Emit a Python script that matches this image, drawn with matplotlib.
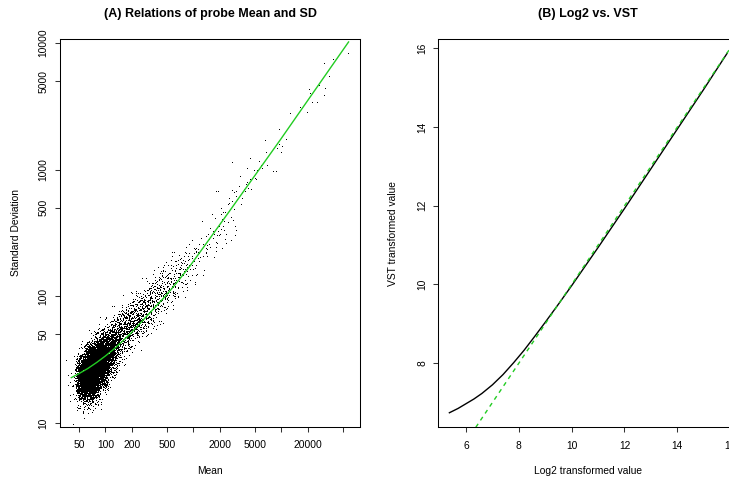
import matplotlib
matplotlib.use("Agg")
import matplotlib.pyplot as plt
import numpy as np

plt.rcParams['font.family'] = ['Liberation Sans', 'DejaVu Sans']

# dense part of the probe cloud: counts per cell, cells are 0.1 wide in log10(SD) x log10(Mean)
sd_row_lo = [1.0, 1.1, 1.2, 1.3, 1.4, 1.5, 1.6, 1.7, 1.8, 1.9, 2.0, 2.1, 2.2, 2.3, 2.4, 2.5, 2.6]
mean_col_start = [1.6, 1.6, 1.6, 1.6, 1.6, 1.7, 1.8, 1.9, 2.1, 2.2, 2.4, 2.5, 2.6, 2.8, 3.0, 3.1, 3.2]
cell_counts = [
    [1, 3],
    [4, 40, 30, 3],
    [8, 350, 320, 20],
    [12, 550, 900, 400, 15],
    [4, 300, 900, 800, 150, 10],
    [25, 380, 650, 380, 55, 6],
    [15, 130, 200, 150, 55, 12],
    [5, 40, 95, 100, 75, 28, 5],
    [18, 55, 75, 62, 28, 5],
    [5, 28, 55, 55, 28, 8],
    [8, 36, 45, 32, 10, 1],
    [4, 18, 26, 22, 9, 1],
    [3, 8, 16, 16, 7, 1],
    [2, 5, 10, 8, 2, 1],
    [2, 6, 8, 3, 1],
    [1, 4, 6, 3],
    [2, 5, 4],
]

# high-expression probes, one by one
upper_mean = [57100, 38600, 30300, 34500, 26600, 31100, 30300, 20500, 21400, 22400,
              25500, 19600, 16500, 12700, 9400, 11400, 9400, 10100, 9000, 9800,
              6520, 6750, 6920, 8030, 8750, 5570, 5870, 5330, 4380, 2780,
              4900, 6080, 4110, 5020, 5200, 4380, 4110, 3940, 4220, 4530,
              3870, 3550, 3370, 3430, 3040, 2910, 2780, 3310, 3120, 2780,
              1830, 1920, 2550, 2550, 3610, 3780, 3090]
upper_sd = [8260, 7410, 6780, 5410, 4560, 4300, 3830, 4250, 3950, 3370,
            3370, 2780, 3080, 2740, 2050, 1710, 1560, 1510, 1450, 1360,
            1680, 1360, 1070, 962, 951, 1150, 1070, 980, 1220, 1120,
            980, 1010, 1020, 847, 826, 826, 787, 751, 706, 690,
            665, 656, 879, 618, 611, 650, 681, 724, 575, 555,
            668, 668, 586, 535, 582, 690, 668]

# smoothed SD ~ mean trend
trend_mean = [41, 50, 63, 80, 100, 126, 158, 189, 251, 316, 398, 479, 575, 693, 902,
              1500, 2550, 5000, 9820, 20000, 58200]
trend_sd = [22.8, 24.5, 26.9, 30.1, 33.8, 38.5, 44.5, 50, 61.7, 73.3, 87.1, 100, 116, 136, 171,
            279, 466, 898, 1734, 3524, 10200]

# log2 vs VST
log2_val = [5.37, 5.7, 6.0, 6.3, 6.6, 7.0, 7.4, 7.8, 8.2, 8.6, 9.0, 9.5, 10.0,
            11.0, 12.0, 13.0, 14.0, 15.0, 15.89]
vst_val = [6.74, 6.85, 6.97, 7.09, 7.23, 7.45, 7.71, 8.01, 8.33, 8.68, 9.04, 9.50, 9.97,
           10.94, 11.93, 12.94, 13.95, 14.96, 15.88]

mean_ticks = [50, 100, 200, 500, 1000, 2000, 5000, 10000, 20000, 50000]
mean_labels = ['50', '100', '200', '500', '', '2000', '5000', '', '20000', '']
sd_ticks = [10, 50, 100, 500, 1000, 5000, 10000]
sd_labels = ['10', '50', '100', '500', '1000', '5000', '10000']
log2_ticks = [6, 8, 10, 12, 14, 16]
vst_ticks = [8, 10, 12, 14, 16]

GREEN = '#22cc22'
W, H = 729, 478


def radical_inverse(k, base):
    out = np.zeros(len(k))
    f = 1.0 / base
    k = k.copy()
    while np.any(k > 0):
        out += f * (k % base)
        k //= base
        f /= base
    return out


def cell_points(rows, starts, counts, step=0.1):
    # each cell's count goes out with a tent profile reaching into its neighbours,
    # positions taken from a Halton sequence so neighbouring cells blend smoothly
    xs, ys = [], []
    c = 0
    for lo, start, row in zip(rows, starts, counts):
        for j, n in enumerate(row):
            k = np.arange(n) + 211 * c + 1
            u = radical_inverse(k, 2) + radical_inverse(k, 3) - 0.5
            v = radical_inverse(k, 5) + radical_inverse(k, 7) - 0.5
            xs.append(10 ** (start + step * (j + u)))
            ys.append(10 ** (lo + step * v))
            c += 1
    return np.concatenate(xs), np.concatenate(ys)


def style_axes(ax):
    for s in ax.spines.values():
        s.set_linewidth(0.75)
    ax.tick_params(length=3.6, width=0.75, labelsize=7.4, color='#333333')
    ax.tick_params(axis='x', pad=6)
    ax.tick_params(axis='y', pad=4.5)
    for lab in ax.get_yticklabels():
        lab.set_rotation(90)
        lab.set_va('center')


fig = plt.figure(figsize=(W / 100, H / 100), dpi=100)

# (A) mean vs SD
ax1 = fig.add_axes([60 / W, 51 / H, 300 / W, 388 / H])
cx, cy = cell_points(sd_row_lo, mean_col_start, cell_counts)
ax1.plot(cx, cy, ',', color='black')
ax1.plot(upper_mean, upper_sd, ',', color='black')
ax1.plot(trend_mean, trend_sd, color=GREEN, lw=1.0)
ax1.set_xscale('log')
ax1.set_yscale('log')
ax1.set_xlim(10 ** 1.484, 10 ** 4.895)
ax1.set_ylim(10 ** 0.968, 10 ** 4.032)
ax1.minorticks_off()
ax1.set_xticks(mean_ticks)
ax1.set_xticklabels(mean_labels)
ax1.set_yticks(sd_ticks)
ax1.set_yticklabels(sd_labels)
style_axes(ax1)
ax1.set_xlabel('Mean', fontsize=7.4, va='center')
ax1.xaxis.set_label_coords(0.5, -44 / 388)
ax1.set_ylabel('Standard Deviation', fontsize=7.4, va='center')
ax1.yaxis.set_label_coords(-44 / 300, 0.5)
ax1.text(0.5, 1 + 25 / 388, '(A) Relations of probe Mean and SD', transform=ax1.transAxes,
         ha='center', va='center', fontsize=9, fontweight='bold')

# (B) log2 vs VST
ax2 = fig.add_axes([438.3 / W, 50.7 / H, 300 / W, 388.3 / H])
ax2.plot(log2_val, vst_val, color='black', lw=1.0)
ax2.axline((8, 8), slope=1, color=GREEN, lw=1.0, linestyle=(0, (3, 3)))
ax2.set_xlim(4.95, 16.31)
ax2.set_ylim(6.37, 16.24)
ax2.set_xticks(log2_ticks)
ax2.set_yticks(vst_ticks)
style_axes(ax2)
ax2.set_xlabel('Log2 transformed value', fontsize=7.4, va='center')
ax2.xaxis.set_label_coords(0.5, -44 / 388.3)
ax2.set_ylabel('VST transformed value', fontsize=7.4, va='center')
ax2.yaxis.set_label_coords(-45.3 / 300, 0.5)
ax2.text(0.5, 1 + 25 / 388.3, '(B) Log2 vs. VST', transform=ax2.transAxes,
         ha='center', va='center', fontsize=9, fontweight='bold')

fig.savefig('out.png', dpi=100)
